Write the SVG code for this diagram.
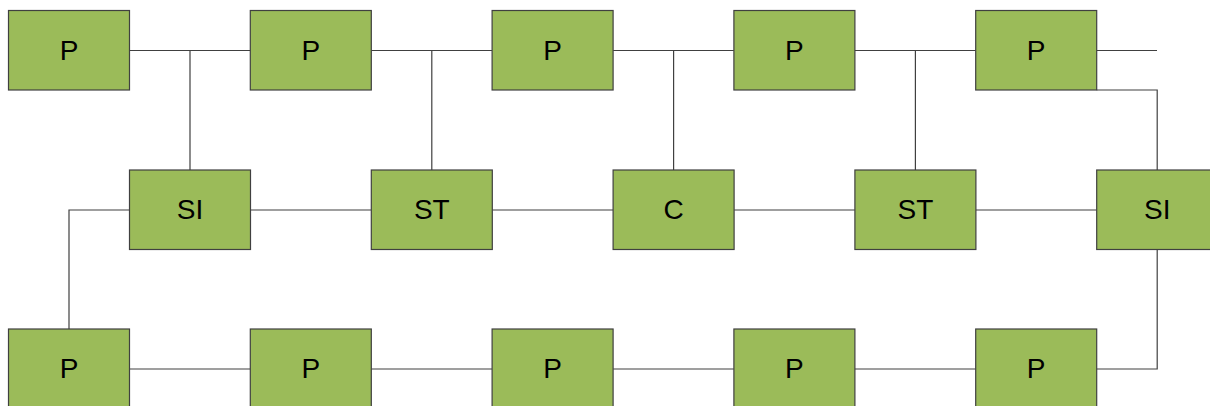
<svg xmlns="http://www.w3.org/2000/svg" width="1210" height="406" viewBox="0 0 1210 406">
<style>
.n rect{fill:#9BBB59;stroke:#404040;stroke-width:1.2}
.n text{font-family:"Liberation Sans",Arial,sans-serif;font-size:28px;fill:#000;text-anchor:middle}
#connectors path{fill:none;stroke:#404040;stroke-width:1.2}
</style>
<rect width="1210" height="406" fill="#fff"/>
<g id="connectors">
<path d="M129.5 50.5H250.3M190 50.5V170"/>
<path d="M371.3 50.5H492.1M431.8 50.5V170"/>
<path d="M613.1 50.5H733.9M673.6 50.5V170"/>
<path d="M854.9 50.5H975.7M915.4 50.5V170"/>
<path d="M1096.7 50.5H1157"/>
<path d="M1096.7 90H1157.2V170"/>
<path d="M250.5 210H371.3M492.3 210H613.1M734.1 210H854.9M975.9 210H1096.7"/>
<path d="M129.5 210H69V329"/>
<path d="M129.5 369H250.3M371.3 369H492.1M613.1 369H733.9M854.9 369H975.7"/>
<path d="M1157.2 250V369H1096.7"/>
</g>
<g id="p1" class="n"><rect x="8.5" y="10.5" width="121" height="79.5"/><text x="69" y="59.5">P</text></g>
<g id="p2" class="n"><rect x="250.3" y="10.5" width="121" height="79.5"/><text x="310.8" y="59.5">P</text></g>
<g id="p3" class="n"><rect x="492.1" y="10.5" width="121" height="79.5"/><text x="552.6" y="59.5">P</text></g>
<g id="p4" class="n"><rect x="733.9" y="10.5" width="121" height="79.5"/><text x="794.4" y="59.5">P</text></g>
<g id="p5" class="n"><rect x="975.7" y="10.5" width="121" height="79.5"/><text x="1036.2" y="59.5">P</text></g>
<g id="si1" class="n"><rect x="129.5" y="170" width="121" height="79.5"/><text x="190" y="219">SI</text></g>
<g id="st1" class="n"><rect x="371.3" y="170" width="121" height="79.5"/><text x="431.8" y="219">ST</text></g>
<g id="c" class="n"><rect x="613.1" y="170" width="121" height="79.5"/><text x="673.6" y="219">C</text></g>
<g id="st2" class="n"><rect x="854.9" y="170" width="121" height="79.5"/><text x="915.4" y="219">ST</text></g>
<g id="si2" class="n"><rect x="1096.7" y="170" width="121" height="79.5"/><text x="1157.2" y="219">SI</text></g>
<g id="b1" class="n"><rect x="8.5" y="329" width="121" height="79.5"/><text x="69" y="378">P</text></g>
<g id="b2" class="n"><rect x="250.3" y="329" width="121" height="79.5"/><text x="310.8" y="378">P</text></g>
<g id="b3" class="n"><rect x="492.1" y="329" width="121" height="79.5"/><text x="552.6" y="378">P</text></g>
<g id="b4" class="n"><rect x="733.9" y="329" width="121" height="79.5"/><text x="794.4" y="378">P</text></g>
<g id="b5" class="n"><rect x="975.7" y="329" width="121" height="79.5"/><text x="1036.2" y="378">P</text></g>
</svg>
